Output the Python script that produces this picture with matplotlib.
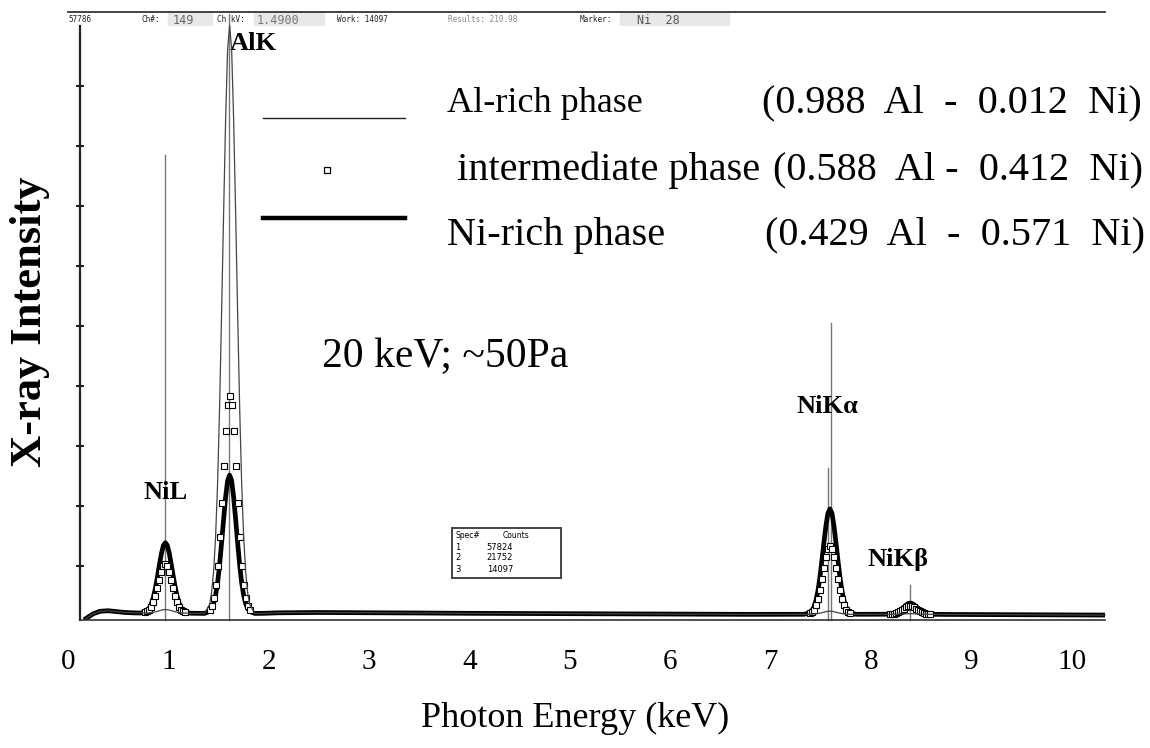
import numpy as np
import matplotlib.pyplot as plt
from matplotlib.patches import Rectangle
from matplotlib.lines import Line2D

W, H = 1150, 748

# peaks (positions as read on the printed keV scale)
peak_names = ['NiL', 'AlK', 'NiK\u03b1', 'NiK\u03b2']
peak_kev = [0.97, 1.61, 7.59, 8.39]
peak_bg = [670, 645, 555, 555]
al_rich_heights = [350, 57180, 300, 60]
intermediate_heights = [4750, 21110, 6650, 800]
ni_rich_heights = [6850, 13450, 10250, 1090]

# one side of the peak shape, relative to the top
half_offsets = [0.0, 0.02, 0.04, 0.06, 0.08, 0.10, 0.12, 0.14, 0.16, 0.18, 0.20]
half_shape = [1.0, 0.96, 0.84, 0.68, 0.51, 0.35, 0.22, 0.13, 0.07, 0.035, 0.015]

# background between the peaks
bg_kev = [0.18, 0.25, 0.32, 0.4, 0.48, 0.56, 0.64, 0.72,
          1.22, 1.3, 1.36,
          1.86, 1.95, 2.1, 2.3, 2.5, 2.75,
          3.0, 3.25, 3.5, 3.75, 4.0, 4.25, 4.5, 4.75,
          5.0, 5.25, 5.5, 5.75, 6.0, 6.25, 6.5, 6.75,
          7.0, 7.2, 7.33,
          7.85, 7.95, 8.05, 8.14,
          8.64, 8.75, 9.0, 9.25, 9.5, 9.75, 10.0, 10.33]
bg_counts = [150, 600, 850, 900, 820, 740, 700, 680,
             660, 650, 640,
             640, 650, 700, 720, 730, 720,
             700, 690, 680, 660, 650, 640, 620, 610,
             600, 590, 580, 570, 560, 560, 555, 550,
             550, 550, 555,
             555, 555, 555, 560,
             550, 540, 530, 520, 510, 500, 490, 480]

# KLM marker lines
marker_kev = [0.97, 1.60, 7.60, 7.57, 8.39]
marker_top = [45250, 59000, 28900, 14800, 3400]

full_scale = 57786
tick_step = 5840
spec_ids = ['1', '2', '3']
spec_counts = ['57824', '21752', '14097']
x_labels = [0, 1, 2, 3, 4, 5, 6, 7, 8, 9, 10]


def build_spectrum(heights, with_bg=True):
    offsets = [-d for d in half_offsets[:0:-1]] + half_offsets
    shape = half_shape[:0:-1] + half_shape
    xs = list(bg_kev) if with_bg else []
    ys = list(bg_counts) if with_bg else []
    for centre, h, b in zip(peak_kev, heights, peak_bg):
        xs += [centre + d for d in offsets]
        ys += [b + h * s for s in shape]
    order = np.argsort(xs)
    return np.array(xs)[order], np.array(ys)[order]


def fx(px):
    return px / W


def fy(py):
    return 1 - py / H


serif = 'Liberation Serif'

fig = plt.figure(figsize=(W / 100, H / 100), dpi=100)
ax = fig.add_axes([fx(68), fy(620), (1105 - 68) / W, (620 - 26) / H])
ax.set_xlim(0, 10.33)
ax.set_ylim(0, full_scale)

for s in ['top', 'right']:
    ax.spines[s].set_visible(False)
ax.spines['left'].set_position(('data', 0.12))
ax.spines['left'].set_linewidth(1.6)
ax.spines['left'].set_color('#222222')
ax.spines['bottom'].set_bounds(0.12, 10.33)
ax.spines['bottom'].set_linewidth(1.2)
ax.spines['bottom'].set_color('#333333')

ax.set_xticks(x_labels)
ax.set_xticklabels([str(v) for v in x_labels], fontfamily=serif, fontsize=21)
ax.tick_params(axis='x', length=0, pad=21)
ax.set_yticks(np.arange(full_scale - tick_step, 0, -tick_step))
ax.set_yticklabels([])
ax.tick_params(axis='y', direction='inout', length=6, width=1.5, color='#222222')

# marker lines
for e, top in zip(marker_kev, marker_top):
    ax.plot([e, e], [0, top], color='#777777', lw=1.0, zorder=1, clip_on=False)

x3, y3 = build_spectrum(ni_rich_heights)
ax.plot(x3, y3, color='black', lw=3.4, zorder=2)
x2, y2 = build_spectrum(intermediate_heights, with_bg=False)
ax.plot(x2, y2, ls='none', marker='s', ms=4, mfc='white', mec='black', mew=0.8, zorder=3)
x1, y1 = build_spectrum(al_rich_heights)
ax.plot(x1, y1, color='#444444', lw=0.9, zorder=4, clip_on=False)

# peak labels
lbl = dict(fontfamily=serif, fontweight='bold', fontsize=19, va='center')
ax.text(0.97, 12400, 'NiL', ha='center', **lbl)
ax.text(1.61, 56100, 'AlK', ha='left', **lbl)
ax.text(7.57, 20800, 'NiK\u03b1', ha='center', **lbl)
ax.text(8.27, 5900, 'NiK\u03b2', ha='center', **lbl)

# legend drawn by hand
fig.add_artist(Line2D([fx(263), fx(405)], [fy(118), fy(118)], color='#222222', lw=1.0))
fig.add_artist(Line2D([fx(327)], [fy(170)], ls='none', marker='s', ms=5, mfc='white', mec='black', mew=0.9))
fig.add_artist(Line2D([fx(263), fx(405)], [fy(218), fy(218)], color='black', lw=3.2))
leg = [(103, 'Al-rich phase', 26, '(0.988  Al  -  0.012  Ni)', 447, 762),
       (170, ' intermediate phase', 29, '(0.588  Al -  0.412  Ni)', 447, 773),
       (235, 'Ni-rich phase', 29, '(0.429  Al  -  0.571  Ni)', 447, 765)]
for py, name, size, comp, x0, x1_ in leg:
    fig.text(fx(x0), fy(py), name, fontfamily=serif, fontsize=size, va='center')
    fig.text(fx(x1_), fy(py), comp, fontfamily=serif, fontsize=29, va='center')

fig.text(fx(322), fy(357), '20 keV; ~50Pa', fontfamily=serif, fontsize=30, va='center')
fig.text(fx(30), fy(322), 'X-ray Intensity', fontfamily=serif, fontweight='bold', fontsize=32,
         rotation=90, ha='center', va='center')
fig.text(fx(575), fy(718), 'Photon Energy (keV)', fontfamily=serif, fontsize=26, ha='center', va='center')

# counts box
fig.add_artist(Rectangle((fx(452), fy(578)), (561 - 452) / W, (578 - 528) / H,
                         fill=False, ec='#444444', lw=1.4, transform=fig.transFigure))
fig.text(fx(455), fy(536), 'Spec#', fontsize=5.5, va='center')
fig.text(fx(503), fy(536), 'Counts', fontsize=5.5, va='center')
for i, (sid, c) in enumerate(zip(spec_ids, spec_counts)):
    fig.text(fx(455), fy(547 + 11 * i), sid, fontsize=6, va='center')
    fig.text(fx(513), fy(547 + 11 * i), c, fontsize=6, va='center', ha='right')

# instrument header
fig.add_artist(Line2D([fx(68), fx(1105)], [fy(12), fy(12)], color='#222222', lw=1.2))
for x0, x1_ in [(168, 212), (254, 324), (620, 729)]:
    fig.add_artist(Rectangle((fx(x0), fy(27)), (x1_ - x0) / W, 14 / H, color='#e8e8e8',
                             transform=fig.transFigure, zorder=0))
hdr = [(68, '57786', 5.5, '#222222'), (141, 'Ch#:', 5.5, '#222222'), (173, '149', 8.5, '#666666'),
       (217, 'Ch kV:', 5.5, '#222222'), (257, '1.4900', 8.5, '#777777'),
       (337, 'Work: 14097', 5.5, '#222222'), (448, 'Results: 210.98', 5.5, '#888888'),
       (580, 'Marker:', 5.5, '#222222'), (637, 'Ni  28', 8.5, '#555555')]
for x0, s, size, col in hdr:
    fig.text(fx(x0), fy(20), s, fontsize=size, color=col, va='center', family='DejaVu Sans Mono')

fig.savefig('out.png', dpi=100)
